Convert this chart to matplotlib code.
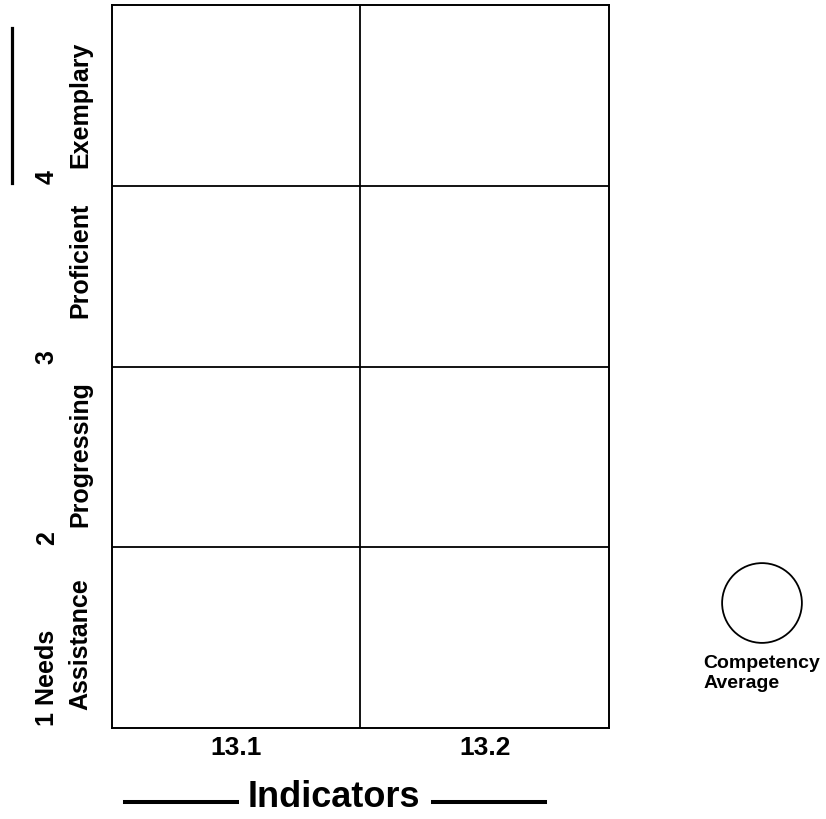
import matplotlib
matplotlib.use('Agg')
import matplotlib.pyplot as plt
from matplotlib.lines import Line2D

plt.rcParams['font.family'] = ['Liberation Sans', 'DejaVu Sans']
plt.rcParams['font.weight'] = 'bold'

# chart content
indicators = ['13.1', '13.2']
level_nums = ['1', '2', '3', '4']
level_names = ['Assistance', 'Progressing', 'Proficient', 'Exemplary']
legend_label = 'Competency\nAverage'
xlabel = 'Indicators'

W, H = 826, 819
fig = plt.figure(figsize=(W / 100, H / 100), dpi=100)
ax = fig.add_axes([112/W, 1 - 728/H, 497/W, 723/H])

ax.set_xlim(0, len(indicators))
ax.set_ylim(0, len(level_nums))
for i in range(1, len(indicators)):
    ax.axvline(i, color='black', lw=1.3)
for j in range(1, len(level_nums)):
    ax.axhline(j, color='black', lw=1.3)
for s in ax.spines.values():
    s.set_linewidth(1.4)

ax.set_xticks([i + 0.5 for i in range(len(indicators))])
ax.set_xticklabels(indicators, fontsize=19, fontweight='bold')
ax.tick_params(axis='x', length=0, pad=6)
ax.set_yticks([])

# rotated row labels left of the grid (hand placed within each row)
tr = ax.get_yaxis_transform()
name_shift = [0.10, 0.11, 0.27, 0.10]
for j, (num, name) in enumerate(zip(level_nums, level_names)):
    first = num + ' Needs' if j == 0 else num
    ax.text(-0.131, j + 0.012, first, transform=tr, rotation=90,
            rotation_mode='anchor', ha='left', va='center', fontsize=18)
    ax.text(-0.063, j + name_shift[j], name, transform=tr, rotation=90,
            rotation_mode='anchor', ha='left', va='center', fontsize=18)

# bar at top left
fig.add_artist(Line2D([12/W, 12/W], [1 - 28/H, 1 - 183/H],
                      color='black', lw=2.3, transform=fig.transFigure))

# legend circle
lax = fig.add_axes([722/W, 1 - 643/H, 80/W, 80/H])
lax.set_xlim(-1, 1)
lax.set_ylim(-1, 1)
lax.scatter([0], [0], s=3300, facecolor='none', edgecolor='black', lw=1.3,
            clip_on=False)
lax.axis('off')
fig.text(762/W, 1 - 655/H, legend_label, fontsize=14, fontweight='bold',
         ha='center', va='top', multialignment='left', linespacing=1.2)

# x title with dashes either side
fig.text(334/W, 1 - 807/H, xlabel, fontsize=26, fontweight='bold',
         ha='center', va='baseline')
for x0, x1 in [(125, 237), (433, 545)]:
    fig.add_artist(Line2D([x0/W, x1/W], [1 - 802/H, 1 - 802/H],
                          color='black', lw=2.9, transform=fig.transFigure))

fig.savefig('out.png', dpi=100)
